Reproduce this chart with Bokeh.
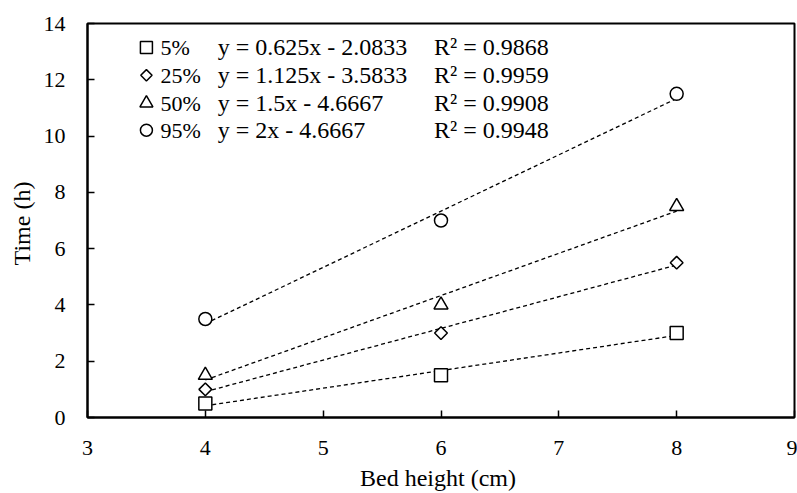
import numpy as np
from bokeh.plotting import figure
from bokeh.models import Label, FixedTicker, Range1d
from bokeh.embed import file_html
from bokeh.resources import INLINE

# ---- data ----
bed_height = [4, 6, 8]
series_names = ["5%", "25%", "50%", "95%"]
time_5 = [0.5, 1.5, 3.0]
time_25 = [1.0, 3.0, 5.5]
time_50 = [1.5, 4.0, 7.5]
time_95 = [3.5, 7.0, 11.5]
slopes = [0.625, 1.125, 1.5, 2.0]
intercepts = [-2.0833, -3.5833, -4.6667, -4.6667]
equations = ["y = 0.625x - 2.0833", "y = 1.125x - 3.5833",
             "y = 1.5x - 4.6667", "y = 2x - 4.6667"]
r_squared = ["R\u00b2 = 0.9868", "R\u00b2 = 0.9959",
             "R\u00b2 = 0.9908", "R\u00b2 = 0.9948"]
x_ticks = [3, 4, 5, 6, 7, 8, 9]
y_ticks = [0, 2, 4, 6, 8, 10, 12, 14]

series = [time_5, time_25, time_50, time_95]

FONT = "Liberation Serif"

p = figure(width=797, height=493, output_backend="svg", toolbar_location=None,
           x_range=Range1d(3, 9), y_range=Range1d(0, 14),
           min_border_left=87, min_border_right=3, min_border_top=23,
           min_border_bottom=75)
p.background_fill_color = "white"
p.border_fill_color = "white"
p.outline_line_color = "black"
p.outline_line_width = 2
p.xgrid.visible = False
p.ygrid.visible = False

for ax in (p.xaxis[0], p.yaxis[0]):
    ax.axis_line_color = "black"
    ax.axis_line_width = 2
    ax.major_tick_in = 7
    ax.major_tick_out = 0
    ax.major_tick_line_color = "black"
    ax.major_tick_line_width = 1.5
    ax.minor_tick_line_color = None
    ax.major_label_text_font = FONT
    ax.major_label_text_font_size = "22px"
    ax.major_label_text_color = "black"
    ax.axis_label_text_font = FONT
    ax.axis_label_text_font_size = "24px"
    ax.axis_label_text_font_style = "normal"
    ax.axis_label_text_color = "black"

p.xaxis.ticker = FixedTicker(ticks=x_ticks)
p.yaxis.ticker = FixedTicker(ticks=y_ticks)
p.xaxis.axis_label = "Bed height  (cm)"
p.yaxis.axis_label = "Time  (h)"
p.xaxis.major_label_standoff = 23
p.yaxis.major_label_standoff = 22
p.xaxis.axis_label_standoff = 7
p.yaxis.axis_label_standoff = 6

# trend lines
xs_fit = np.array([min(bed_height), max(bed_height)], dtype=float)
for m, b in zip(slopes, intercepts):
    p.line(xs_fit, m * xs_fit + b, line_color="black", line_width=1.3,
           line_dash="4 3")

# markers
marker_kinds = ["square", "square", "triangle", "circle"]
marker_sizes = [13, 9, 14, 13]
marker_angles = [0.0, np.pi / 4, 0.0, 0.0]
for ys, mk, sz, ang in zip(series, marker_kinds, marker_sizes, marker_angles):
    p.scatter(bed_height, ys, marker=mk, size=sz, angle=ang,
              fill_color="white", line_color="black", line_width=1.5)

# legend block (symbols, labels, equations, R²) placed at the top-left
row_y = [13.15, 12.16, 11.17, 10.21]
key_x, name_x, eq_x, r2_x = 3.50, 3.62, 4.105, 5.94
for name, eq, r2, yy, mk, sz, ang in zip(series_names, equations, r_squared,
                                         row_y, marker_kinds, marker_sizes,
                                         marker_angles):
    p.scatter([key_x], [yy], marker=mk, size=sz - 1, angle=ang,
              fill_color="white", line_color="black", line_width=1.5)
    p.add_layout(Label(x=name_x, y=yy, text=name, text_font=FONT,
                       text_font_size="22px", text_baseline="middle",
                       text_color="black"))
    p.add_layout(Label(x=eq_x, y=yy, text=eq, text_font=FONT,
                       text_font_size="24px", text_baseline="middle",
                       text_color="black"))
    p.add_layout(Label(x=r2_x, y=yy, text=r2, text_font=FONT,
                       text_font_size="24px", text_baseline="middle",
                       text_color="black"))

open("out.html", "w").write(file_html(p, INLINE))
